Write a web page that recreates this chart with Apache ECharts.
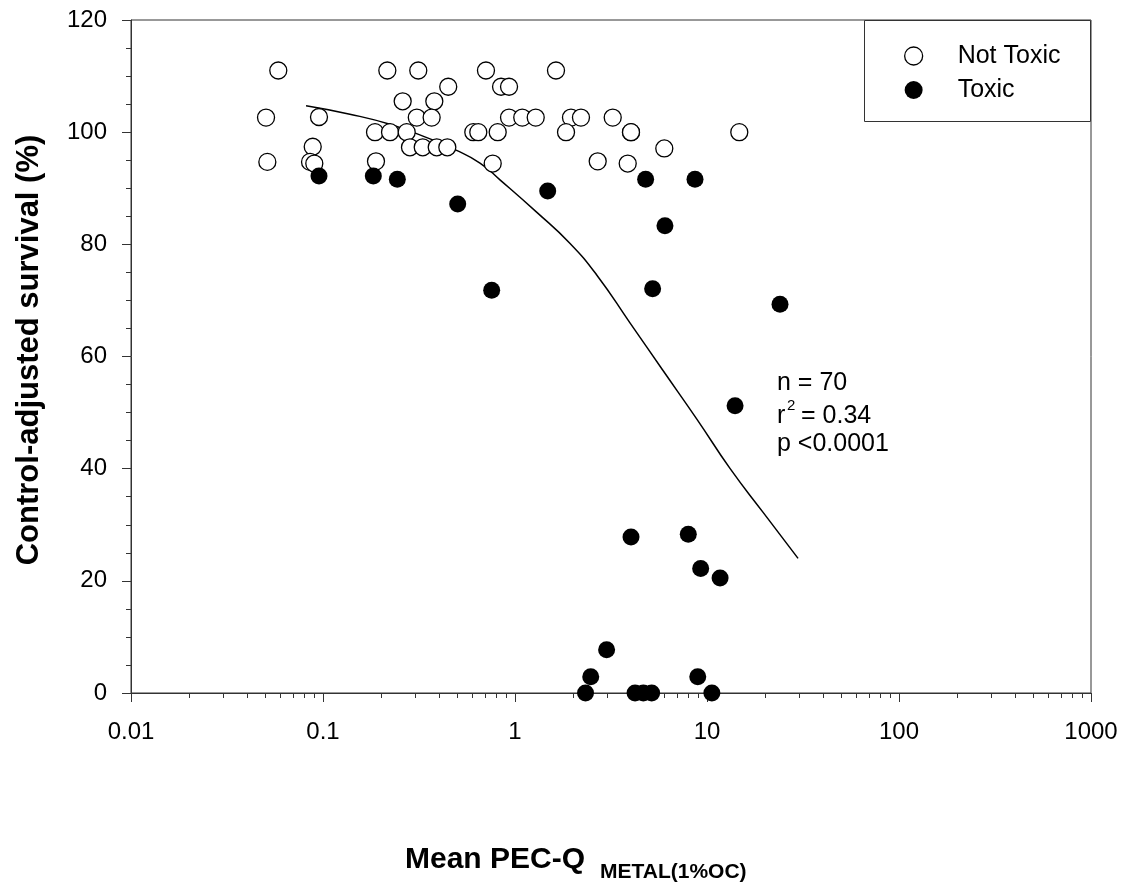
<!DOCTYPE html>
<html><head><meta charset="utf-8">
<script src="https://cdn.jsdelivr.net/npm/echarts@6/dist/echarts.min.js"></script>
<style>html,body{margin:0;padding:0;background:#fff}#c{width:1140px;height:886px}</style>
</head><body><div id="c"></div>
<script>
// ---- data ----
const xTickLabels = ['0.01', '0.1', '1', '10', '100', '1000'];
const yTickLabels = ['0', '20', '40', '60', '80', '100', '120'];
const xMinorTicks = [0.02,0.03,0.04,0.05,0.06,0.07,0.08,0.09,
  0.2,0.3,0.4,0.5,0.6,0.7,0.8,0.9,
  2,3,4,5,6,7,8,9,
  20,30,40,50,60,70,80,90,
  200,300,400,500,600,700,800,900];

const notToxicX = [0.0585,0.2163,0.3135,0.706,1.635,
  0.449,0.846,0.931,0.260,0.380,
  0.0505,0.0953,0.308,0.368,0.931,1.091,1.282,1.957,2.206,3.228,
  0.1866,0.2234,0.2729,0.6065,0.644,0.8126,1.844,4.019,4.019,14.73,
  0.2838,0.3307,0.3911,0.4441,0.0884,5.992,
  0.0513,0.0856,0.0901,0.1888,0.7654,2.696,3.864];
const notToxicY = [111,111,111,111,111,
  108.1,108.1,108.1,105.5,105.5,
  102.6,102.7,102.6,102.6,102.6,102.6,102.6,102.6,102.6,102.6,
  100,100,100,100,100,100,100,100,100,100,
  97.3,97.3,97.3,97.3,97.4,97.1,
  94.7,94.7,94.4,94.8,94.4,94.8,94.4];

const toxicX = [0.0953,0.1828,0.2438,0.503,1.48,4.79,8.66,6.04,0.756,5.21,24.0,14.0,
  4.02,7.99,9.27,11.7,3.00,2.48,8.95,2.33,4.22,4.66,5.15,10.6];
const toxicY = [92.2,92.2,91.6,87.2,89.5,91.6,91.6,83.3,71.8,72.1,69.3,51.2,
  27.8,28.3,22.2,20.5,7.7,2.9,2.9,0,0,0,0,0];

const curveX = [0.0816,0.138,0.223,0.361,0.493,0.657,0.835,1.30,1.93,2.67,3.97,5.90,8.87,13.2,19.6,29.8];
const curveY = [104.7,103.2,101.4,98.8,96.8,94.5,91.5,85.7,80.2,74.5,66.0,57.5,48.8,40.0,32.2,24.0];

// ---- chart ----
const FONT = "'Liberation Sans', Arial, Helvetica, sans-serif";
const AX = '#333';
const chart = echarts.init(document.getElementById('c'), null, {renderer: 'canvas'});
const zip = (xs, ys) => xs.map((x, i) => [x, ys[i]]);

const option = {
  animation: false,
  backgroundColor: '#fff',
  grid: {left: 131, right: 49, top: 20, bottom: 193, show: true, borderColor: AX, borderWidth: 1,
         containLabel: false, outerBoundsMode: 'none'},
  legend: {
    data: [
      {name: 'Not Toxic', icon: 'circle', itemStyle: {color: '#fff', borderColor: '#000', borderWidth: 1.3}},
      {name: 'Toxic', icon: 'circle', itemStyle: {color: '#000', borderWidth: 0}}
    ],
    orient: 'vertical', left: 904, top: 43, padding: 0,
    itemWidth: 18, itemHeight: 18, itemGap: 8,
    textStyle: {fontSize: 25, fontFamily: FONT, color: '#000', lineHeight: 26, padding: [0, 0, 0, 30]},
    selectedMode: false, z: 5
  },
  xAxis: {
    type: 'log', logBase: 10, min: 0.01, max: 1000,
    axisLine: {show: true, lineStyle: {color: AX, width: 1}},
    axisTick: {show: true, length: 9, lineStyle: {color: AX, width: 1}},
    axisLabel: {margin: 27, fontSize: 24, color: '#000', fontFamily: FONT,
      formatter: v => xTickLabels[Math.round(Math.log10(v)) + 2]},
    splitLine: {show: false}
  },
  yAxis: {
    type: 'value', min: 0, max: 120, interval: 20,
    axisLine: {show: true, lineStyle: {color: AX, width: 1}},
    axisTick: {show: true, length: 9, lineStyle: {color: AX, width: 1}},
    minorTick: {show: true, splitNumber: 4, length: 5, lineStyle: {color: AX, width: 1}},
    axisLabel: {margin: 24, fontSize: 24, color: '#000', fontFamily: FONT,
      formatter: v => yTickLabels[Math.round(v / 20)]},
    splitLine: {show: false}, minorSplitLine: {show: false}
  },
  graphic: [
    {type: 'rect', z: 3, shape: {x: 864.5, y: 20.5, width: 226, height: 101},
     style: {fill: '#fff', stroke: AX, lineWidth: 1}},
    {type: 'text', x: 29, y: 350, rotation: Math.PI / 2, z: 5,
     style: {text: 'Control-adjusted survival (%)', font: 'bold 31px ' + FONT, fill: '#000',
             align: 'center', verticalAlign: 'middle'}},
    {type: 'text', x: 405, y: 860, z: 5,
     style: {text: 'Mean PEC-Q', font: 'bold 30px ' + FONT, fill: '#000', align: 'left', verticalAlign: 'middle'}},
    {type: 'text', x: 600, y: 872, z: 5,
     style: {text: 'METAL(1%OC)', font: 'bold 21px ' + FONT, fill: '#000', align: 'left', verticalAlign: 'middle'}},
    {type: 'text', x: 777, y: 383, z: 5,
     style: {text: 'n = 70', font: '25px ' + FONT, fill: '#000', align: 'left', verticalAlign: 'middle'}},
    {type: 'text', x: 777, y: 416, z: 5,
     style: {text: 'r', font: '25px ' + FONT, fill: '#000', align: 'left', verticalAlign: 'middle'}},
    {type: 'text', x: 787, y: 406, z: 5,
     style: {text: '2', font: '15px ' + FONT, fill: '#000', align: 'left', verticalAlign: 'middle'}},
    {type: 'text', x: 801, y: 416, z: 5,
     style: {text: '= 0.34', font: '25px ' + FONT, fill: '#000', align: 'left', verticalAlign: 'middle'}},
    {type: 'text', x: 777, y: 444, z: 5,
     style: {text: 'p <0.0001', font: '25px ' + FONT, fill: '#000', align: 'left', verticalAlign: 'middle'}}
  ],
  series: [
    {type: 'custom', name: 'minorTicks', silent: true, clip: false, z: 1,
     data: xMinorTicks.map(v => [v, 0]),
     renderItem: (params, api) => {
       const p = api.coord([api.value(0), 0]);
       const x = Math.round(p[0]) + 0.5;
       return {type: 'line', shape: {x1: x, y1: p[1], x2: x, y2: p[1] + 5},
               style: {stroke: AX, lineWidth: 1}};
     }},
    {type: 'line', name: 'fit', data: zip(curveX, curveY), showSymbol: false, smooth: 0.5,
     silent: true, lineStyle: {color: '#000', width: 1.5}, z: 2},
    {type: 'scatter', name: 'Not Toxic', data: zip(notToxicX, notToxicY), symbol: 'circle', symbolSize: 17,
     clip: false, itemStyle: {color: '#fff', borderColor: '#000', borderWidth: 1.3, opacity: 1}, z: 3},
    {type: 'scatter', name: 'Toxic', data: zip(toxicX, toxicY), symbol: 'circle', symbolSize: 17,
     clip: false, itemStyle: {color: '#000', opacity: 1}, z: 4}
  ]
};
chart.setOption(option);
</script>
</body></html>
